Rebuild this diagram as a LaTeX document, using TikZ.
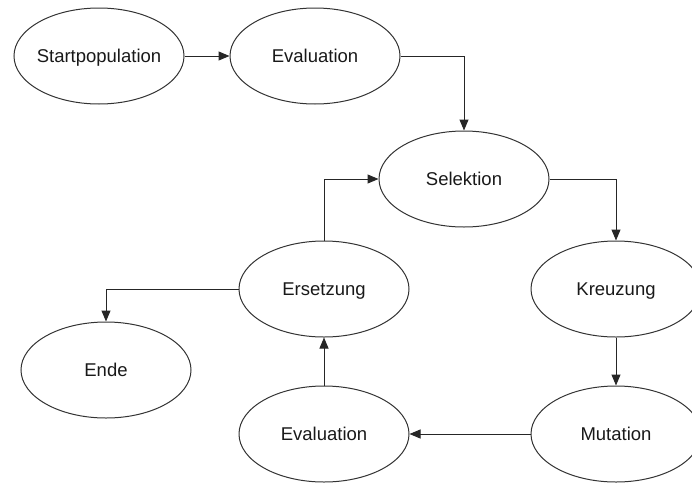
\documentclass[tikz,border=0pt]{standalone}
\usepackage{fontspec}
\setmainfont{Liberation Sans}
\usetikzlibrary{shapes.geometric,arrows.meta}
\begin{document}
\begin{tikzpicture}[x=1pt,y=-1pt,
  state/.style={draw=black!80, line width=1pt, ellipse, minimum width=170pt, minimum height=96pt,
    inner xsep=-14pt, inner ysep=0pt, text height=13pt, text depth=0pt,
    text=black!90, font=\fontsize{18.5}{22}\selectfont},
  conn/.style={draw=black!85, line width=1pt, -{Triangle[length=11pt,width=9pt]}}]
\useasboundingbox (0,0) rectangle (692,482);
\node[state] (start) at (99,56) {Startpopulation};
\node[state] (eval1) at (315,56) {Evaluation};
\node[state] (sel) at (464,179) {Selektion};
\node[state] (kreuz) at (616,289) {Kreuzung};
\node[state] (ers) at (324,289) {Ersetzung};
\node[state] (ende) at (106,370) {Ende};
\node[state] (eval2) at (324,434) {Evaluation};
\node[state] (mut) at (616,434) {Mutation};
\draw[conn] (start) -- (eval1);
\draw[conn] (eval1.east) -| (sel.north);
\draw[conn] (sel.east) -| (kreuz.north);
\draw[conn] (kreuz) -- (mut);
\draw[conn] (mut) -- (eval2);
\draw[conn] (eval2) -- (ers);
\draw[conn] (ers.north) |- (sel.west);
\draw[conn] (ers.west) -| (ende.north);
\end{tikzpicture}
\end{document}
